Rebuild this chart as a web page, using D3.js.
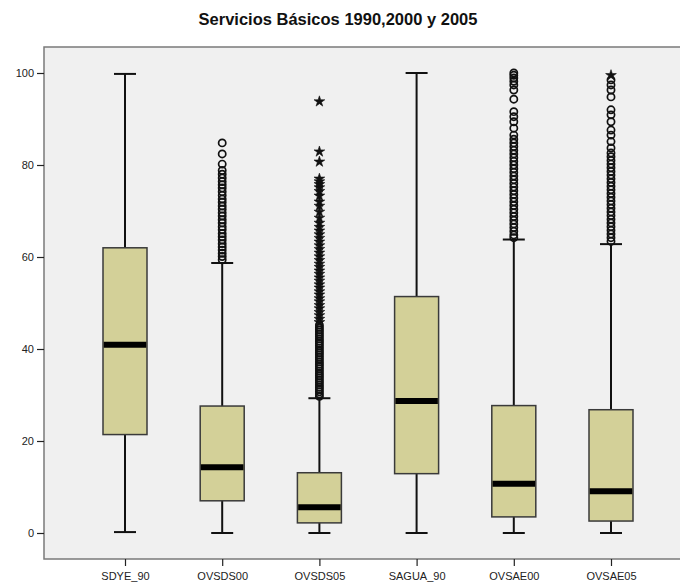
<!DOCTYPE html>
<html>
<head>
<meta charset="utf-8">
<script src="https://cdn.jsdelivr.net/npm/d3@7"></script>
<style>
  body { margin: 0; background: #fff; }
  text { font-family: "Liberation Sans", Arial, sans-serif; }
</style>
</head>
<body>
<script>
// chart size
const width = 680;
const height = 587;

// variables on the x axis
const categories = ["SDYE_90", "OVSDS00", "OVSDS05", "SAGUA_90", "OVSAE00", "OVSAE05"];

// box statistics
const whiskerLow  = [0.2, 0, 0, 0, 0, 0];
const q1          = [21.4, 7.0, 2.2, 12.9, 3.5, 2.6];
const medians     = [40.9, 14.3, 5.6, 28.7, 10.7, 9.1];
const q3          = [62.0, 27.6, 13.1, 51.4, 27.7, 26.8];
const whiskerHigh = [99.8, 58.7, 29.3, 100, 63.8, 62.8];

// outliers (circles) and extremes (stars)
const outliersOVSDS00 = [84.8, 82.4, 80.2, 78.8, 78.0, 77.2, 76.4, 75.7, 75.0, 74.2, 73.4, 72.6, 71.9, 71.1, 70.4,
  69.6, 68.9, 68.1, 67.4, 66.6, 65.9, 65.1, 64.4, 63.7, 62.9, 62.2, 61.5, 60.8, 60.1, 59.4];
const outliersOVSDS05 = [45.2, 44.7, 44.2, 43.7, 43.2, 42.7, 42.2, 41.7, 41.2, 40.7, 40.2, 39.7, 39.2, 38.7, 38.2,
  37.7, 37.2, 36.7, 36.2, 35.7, 35.2, 34.7, 34.2, 33.7, 33.2, 32.7, 32.2, 31.7, 31.2, 30.7, 30.2, 29.7];
const extremesOVSDS05 = [93.8, 82.9, 80.7, 77.0, 76.4, 75.8, 75.1, 74.3, 73.3, 72.0, 71.1, 69.8, 68.5, 67.4, 66.5,
  65.7, 64.9, 64.1, 63.3, 62.5, 61.7, 60.9, 60.1, 59.3, 58.5, 57.8, 57.0, 56.3, 55.5, 54.8, 54.0, 53.3, 52.5,
  51.8, 51.0, 50.3, 49.5, 48.8, 48.0, 47.3, 46.5, 45.8];
const outliersOVSAE00 = [100.0, 99.5, 98.9, 98.2, 97.4, 96.3, 94.3, 91.6, 90.5, 89.4, 88.0, 86.5, 85.6, 84.8, 84.0,
  83.2, 82.4, 81.6, 80.8, 80.0, 79.2, 78.4, 77.6, 76.8, 76.0, 75.2, 74.4, 73.6, 72.8, 72.0, 71.2, 70.4, 69.6,
  68.8, 68.0, 67.2, 66.4, 65.6, 64.8, 64.2];
const outliersOVSAE05 = [98.5, 97.4, 96.3, 94.8, 92.0, 90.9, 89.4, 87.6, 86.5, 85.1, 83.7, 82.6, 81.8, 81.0, 80.2,
  79.4, 78.6, 77.8, 77.0, 76.2, 75.4, 74.6, 73.8, 73.0, 72.2, 71.4, 70.6, 69.8, 69.0, 68.2, 67.4, 66.6, 65.8,
  65.0, 64.2, 63.4];
const extremesOVSAE05 = [99.5];

const outliers = [[], outliersOVSDS00, outliersOVSDS05, [], outliersOVSAE00, outliersOVSAE05];
const extremes = [[], [], extremesOVSDS05, [], [], extremesOVSAE05];

const yTicks = [0, 20, 40, 60, 80, 100];

const svg = d3.select("body").append("svg")
  .attr("width", width)
  .attr("height", height);

// plot frame
const frame = { left: 44, top: 47, right: 700, bottom: 559 };

const x = d3.scalePoint()
  .domain(categories)
  .range([125, 611]);

const y = d3.scaleLinear()
  .domain([0, 100])
  .range([533, 73]);

// title
svg.append("text")
  .attr("x", 338)
  .attr("y", 25)
  .attr("text-anchor", "middle")
  .style("font-size", "16.5px")
  .style("font-weight", "bold")
  .style("fill", "#111")
  .text("Servicios Básicos 1990,2000 y 2005");

svg.append("rect")
  .attr("x", frame.left)
  .attr("y", frame.top)
  .attr("width", frame.right - frame.left)
  .attr("height", frame.bottom - frame.top)
  .attr("fill", "#f0f0f0")
  .attr("stroke", "#7a7a7a")
  .attr("stroke-width", 1.5);

// y axis
const yAxis = svg.append("g")
  .attr("transform", `translate(${frame.left},0)`)
  .call(d3.axisLeft(y).tickValues(yTicks).tickSize(7).tickPadding(3));
yAxis.select(".domain").remove();
yAxis.selectAll("line").attr("stroke", "#222").attr("stroke-width", 1.2);
yAxis.selectAll("text").style("font-size", "11px").style("fill", "#222")
  .style("font-family", "Liberation Sans, Arial, sans-serif");

// x axis
const xAxis = svg.append("g")
  .attr("transform", `translate(0,${frame.bottom})`)
  .call(d3.axisBottom(x).tickSize(7).tickPadding(6));
xAxis.select(".domain").remove();
xAxis.selectAll("line").attr("stroke", "#222").attr("stroke-width", 1.2);
xAxis.selectAll("text").style("font-size", "11px").style("fill", "#222")
  .style("font-family", "Liberation Sans, Arial, sans-serif");

const boxW = 44;
const capW = 22;

const stats = categories.map((c, i) => ({
  name: c, lo: whiskerLow[i], q1: q1[i], med: medians[i], q3: q3[i], hi: whiskerHigh[i],
  out: outliers[i], ext: extremes[i]
}));

const boxes = svg.selectAll(".box")
  .data(stats)
  .enter()
  .append("g")
  .attr("class", "box")
  .attr("transform", d => `translate(${x(d.name)},0)`);

// whiskers
boxes.append("line")
  .attr("x1", 0).attr("x2", 0)
  .attr("y1", d => y(d.lo)).attr("y2", d => y(d.hi))
  .attr("stroke", "#111").attr("stroke-width", 2);

boxes.selectAll(".cap")
  .data(d => [d.lo, d.hi])
  .enter()
  .append("line")
  .attr("class", "cap")
  .attr("x1", -capW / 2).attr("x2", capW / 2)
  .attr("y1", v => y(v)).attr("y2", v => y(v))
  .attr("stroke", "#111").attr("stroke-width", 2);

// boxes
boxes.append("rect")
  .attr("x", -boxW / 2)
  .attr("width", boxW)
  .attr("y", d => y(d.q3))
  .attr("height", d => y(d.q1) - y(d.q3))
  .attr("fill", "#d3d098")
  .attr("stroke", "#3a3a3a")
  .attr("stroke-width", 1.5);

boxes.append("line")
  .attr("x1", -boxW / 2 + 0.75).attr("x2", boxW / 2 - 0.75)
  .attr("y1", d => y(d.med)).attr("y2", d => y(d.med))
  .attr("stroke", "#000").attr("stroke-width", 6);

// outliers
boxes.selectAll(".outlier")
  .data(d => d.out)
  .enter()
  .append("circle")
  .attr("class", "outlier")
  .attr("cx", 0)
  .attr("cy", v => y(v))
  .attr("r", 3.6)
  .attr("fill", "none")
  .attr("stroke", "#111")
  .attr("stroke-width", 1.7);

// extremes
const star = d3.symbol().type(d3.symbolStar).size(36);
boxes.selectAll(".extreme")
  .data(d => d.ext)
  .enter()
  .append("path")
  .attr("class", "extreme")
  .attr("d", star)
  .attr("transform", v => `translate(0,${y(v)})`)
  .attr("fill", "#111")
  .attr("stroke", "#111")
  .attr("stroke-width", 0.6);
</script>
</body>
</html>
